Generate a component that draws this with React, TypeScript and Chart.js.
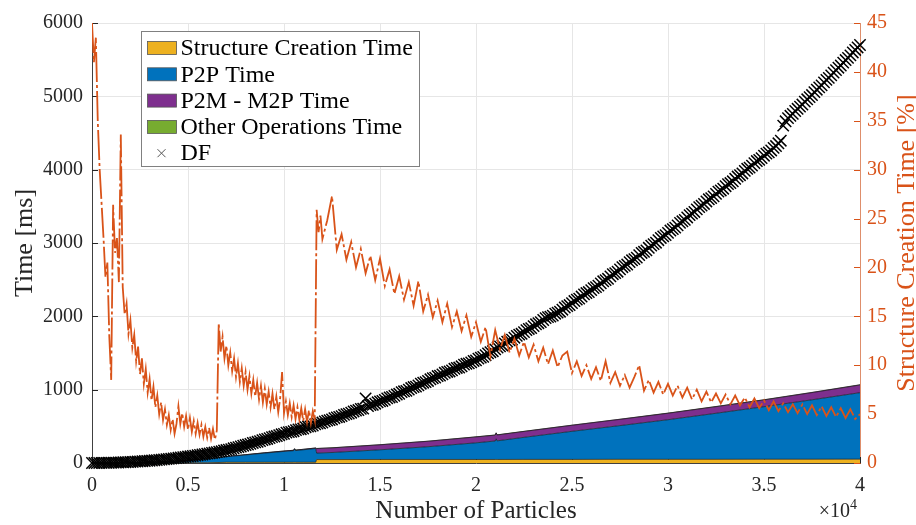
import React, { useEffect, useRef } from 'react';
import { Chart, registerables } from 'chart.js';

Chart.register(...registerables);

// ---------- data ----------
// Stacked time components (ms) sampled at AREA_N particles
const AREA_N = [0, 1000, 2000, 3000, 4000, 5000, 6000, 7000, 8000, 9000, 10000, 10500, 10550, 10600, 11000, 11650, 11700, 12500, 15000, 17500, 20000, 21000, 21050, 21100, 22500, 25000, 27500, 30000, 32500, 35000, 37500, 40000];
const STRUCT_MS = [0, 0.2, 0.5, 0.8, 1.2, 1.8, 2, 10, 10, 10, 10, 10, 10, 10, 10, 10, 47, 47, 48, 48, 48, 48, 48, 48, 49, 49, 50, 50, 50, 51, 51, 52];
const P2P_MS = [0, 0.8, 3.5, 9, 19, 33, 53, 75, 100, 125, 148, 158, 180, 160, 170, 188, 88, 96, 132, 174, 227, 252, 282, 254, 301, 383, 460, 540, 628, 717, 811, 907];
const P2M_MS = [0, 0, 0, 0, 0.5, 1, 1.5, 2, 3, 4, 5, 5, 5, 5, 6, 6, 62, 63, 68, 74, 80, 80, 80, 80, 80, 82, 85, 88, 90, 92, 98, 105];
const OTHER_MS = [0, 0, 0, 0, 0.2, 0.3, 0.4, 0.5, 0.6, 0.7, 0.8, 0.8, 0.8, 0.8, 0.9, 1, 1.5, 1.5, 1.6, 1.8, 2, 2, 2, 2, 2.1, 2.2, 2.4, 2.5, 2.7, 2.8, 3, 3.2];

// DF total time (ms), one value every DF_STEP particles from 0 to 40000
const DF_STEP = 125;
const DF_MS = [
  0, 0, 0, 0.5, 1, 1.5, 2, 3, 4, 4.5, 5, 6.5, 8, 9.5, 11, 12.5,
  14, 16, 18, 20, 22, 24, 27, 29, 31, 34, 37, 40, 43, 46, 49, 53,
  57, 60, 63, 67, 71, 75, 79, 83, 88, 92, 96, 101, 106, 111, 116, 121,
  127, 132, 137, 143, 149, 155, 160, 170, 177, 182, 190, 201, 210, 216, 225, 236,
  245, 252, 261, 273, 282, 289, 299, 312, 321, 328, 339, 352, 361, 368, 379, 392,
  398, 414, 421, 424, 433, 449, 458, 461, 470, 488, 497, 500, 510, 528, 537, 542,
  552, 568, 578, 584, 594, 611, 622, 628, 640, 657, 667, 674, 686, 703, 714, 722,
  738, 742, 880, 776, 790, 794, 808, 828, 840, 846, 861, 882, 894, 900, 915, 934,
  944, 966, 978, 984, 1000, 1022, 1036, 1042, 1058, 1081, 1095, 1102, 1119, 1142, 1156, 1165,
  1186, 1191, 1208, 1230, 1241, 1248, 1263, 1285, 1296, 1302, 1319, 1342, 1353, 1359, 1373, 1391,
  1400, 1424, 1437, 1448, 1470, 1495, 1511, 1524, 1550, 1575, 1590, 1603, 1630, 1655, 1672, 1683,
  1708, 1734, 1750, 1762, 1785, 1812, 1828, 1840, 1866, 1892, 1906, 1921, 1950, 1976, 1990, 1996,
  2010, 2036, 2050, 2063, 2090, 2120, 2140, 2154, 2180, 2209, 2228, 2242, 2270, 2300, 2318, 2331,
  2358, 2384, 2398, 2418, 2450, 2478, 2494, 2512, 2545, 2574, 2590, 2608, 2640, 2670, 2688, 2706,
  2740, 2764, 2780, 2801, 2835, 2864, 2880, 2900, 2935, 2965, 2985, 3004, 3038, 3069, 3090, 3108,
  3138, 3170, 3190, 3210, 3240, 3274, 3296, 3316, 3348, 3380, 3400, 3423, 3458, 3490, 3510, 3532,
  3566, 3596, 3612, 3636, 3670, 3700, 3716, 3740, 3774, 3802, 3818, 3842, 3876, 3906, 3924, 3948,
  3984, 4012, 4028, 4055, 4090, 4118, 4133, 4157, 4190, 4218, 4236, 4262, 4298, 4322, 4360, 4395,
  4600, 4660, 4702, 4735, 4760, 4800, 4830, 4860, 4888, 4928, 4960, 4990, 5018, 5058, 5090, 5122,
  5150, 5190, 5224, 5252, 5285, 5324, 5358, 5390, 5420, 5460, 5495, 5525, 5558, 5598, 5632, 5666,
  5700,
];

// Structure creation time share (%), first part every 100 particles (0..11900)
const PCT_A_STEP = 100;
const PCT_A = [
  45, 41, 43.5, 35, 30, 26.5, 23, 19, 20.5, 13,
  8.5, 26.4, 21.5, 23, 18.5, 33.6, 18.0, 15.2, 16.3, 13.2,
  14.6, 11.8, 13.1, 10.4, 11.9, 9.1, 10.7, 8.1, 9.6, 7.2,
  8.6, 6.4, 7.8, 5.7, 6.9, 5.0, 6.2, 4.4, 5.5, 3.9,
  4.9, 3.4, 4.5, 3.0, 4.0, 5.8, 4.0, 5.1, 3.7, 4.8,
  3.4, 4.6, 3.2, 4.3, 3.0, 4.1, 2.9, 3.9, 2.7, 3.7,
  2.6, 3.6, 2.5, 3.5, 2.4, 3.3, 14.3, 11.4, 12.9, 10.7,
  12.0, 10.0, 11.3, 9.4, 10.7, 8.8, 10.2, 8.3, 9.7, 7.9,
  9.3, 7.5, 8.9, 7.1, 8.5, 6.8, 8.2, 6.5, 7.9, 6.2,
  7.6, 6.0, 7.3, 5.7, 7.1, 5.5, 6.8, 5.2, 6.6, 9.3,
  5.1, 6.3, 4.9, 6.1, 4.7, 5.9, 4.5, 5.7, 4.4, 5.6,
  4.3, 5.5, 4.2, 5.4, 4.1, 5.3, 4.4, 25.9, 23.6, 25.3,
];
// second part every 250 particles (12000..40000)
const PCT_B_START = 12000;
const PCT_B_STEP = 250;
const PCT_B = [
  22.9, 24.8, 27.3, 21.8, 23.4, 20.8, 22.6, 20.0,
  21.9, 19.4, 21.2, 18.7, 20.9, 18.1, 19.8, 17.3,
  19.1, 16.7, 18.5, 16.1, 18.6, 15.5, 17.2, 14.9,
  16.6, 14.4, 16.3, 13.9, 15.5, 13.5, 15.1, 12.9,
  14.4, 12.4, 13.9, 10.9, 13.6, 11.6, 13.1, 11.3,
  12.7, 11.0, 12.4, 10.8, 12.1, 10.4, 11.8, 10.1,
  11.5, 9.8, 11.0, 11.4, 9.2, 10.4, 8.9, 10.0,
  8.6, 9.8, 8.4, 10.4, 8.2, 9.3, 7.9, 9.0,
  7.7, 8.8, 10.0, 7.4, 8.5, 7.2, 8.3, 7.0,
  8.1, 6.9, 7.9, 6.7, 7.7, 6.5, 7.5, 6.3,
  7.3, 6.2, 7.1, 6.1, 7.0, 6.0, 6.9, 5.9,
  6.7, 5.7, 6.6, 5.6, 6.4, 5.4, 6.3, 5.3,
  6.1, 5.2, 6.0, 5.1, 6.0, 5.0, 5.9, 4.9,
  5.8, 4.8, 5.7, 4.7, 5.6, 4.6, 5.5, 4.5,
  5.0,
];

const LEGEND_LABELS = ['Structure Creation Time', 'P2P Time', 'P2M - M2P Time', 'Other Operations Time', 'DF'];
const X_LABEL = 'Number of Particles';
const Y_LABEL = 'Time [ms]';
const Y2_LABEL = 'Structure Creation Time [%]';

// ---------- styles ----------
const C_YELLOW = '#EDB120';
const C_BLUE = '#0072BD';
const C_PURPLE = '#7E2F8E';
const C_GREEN = '#77AC30';
const C_ORANGE = '#D95319';
const FONT = '"Liberation Serif", "Times New Roman", serif';
const TXT = '#262626';

const overlay = {
  id: 'overlay',
  beforeDatasetsDraw(chart: any) {
    const { ctx, chartArea: a, scales } = chart;
    ctx.save();
    ctx.lineWidth = 1;
    ctx.strokeStyle = TXT;
    ctx.beginPath();
    for (const t of scales.y.ticks) {
      const y = Math.round(scales.y.getPixelForValue(t.value)) + 0.5;
      ctx.moveTo(a.left, y); ctx.lineTo(a.left + 6, y);
    }
    for (const t of scales.x.ticks) {
      const x = Math.round(scales.x.getPixelForValue(t.value)) + 0.5;
      ctx.moveTo(x, a.bottom); ctx.lineTo(x, a.bottom - 6);
    }
    ctx.stroke();
    ctx.strokeStyle = C_ORANGE;
    ctx.beginPath();
    for (const t of scales.y2.ticks) {
      const y = Math.round(scales.y2.getPixelForValue(t.value)) + 0.5;
      ctx.moveTo(a.right, y); ctx.lineTo(a.right - 6, y);
    }
    ctx.stroke();
    ctx.restore();
  },
  afterDraw(chart: any) {
    const { ctx, chartArea: a } = chart;
    ctx.save();
    // axis titles
    ctx.textAlign = 'center';
    ctx.textBaseline = 'middle';
    ctx.fillStyle = TXT;
    ctx.font = `25px ${FONT}`;
    ctx.fillText(X_LABEL, (a.left + a.right) / 2, a.bottom + 48);
    ctx.save();
    ctx.translate(a.left - 67, (a.top + a.bottom) / 2);
    ctx.rotate(-Math.PI / 2);
    ctx.font = `26px ${FONT}`;
    ctx.fillText(Y_LABEL, 0, 0);
    ctx.restore();
    ctx.save();
    ctx.translate(a.right + 47, (a.top + a.bottom) / 2);
    ctx.rotate(-Math.PI / 2);
    ctx.font = `26px ${FONT}`;
    ctx.fillStyle = C_ORANGE;
    ctx.fillText(Y2_LABEL, 0, 0);
    ctx.restore();
    // x10^4 multiplier
    ctx.textAlign = 'right';
    ctx.textBaseline = 'alphabetic';
    ctx.font = `20px ${FONT}`;
    ctx.fillText('\u00d710', a.right - 10, a.bottom + 54);
    ctx.textAlign = 'left';
    ctx.font = `14px ${FONT}`;
    ctx.fillText('4', a.right - 10, a.bottom + 46);

    // legend
    const lx = a.left + 49.5, ly = a.top + 8.5, lw = 278, lh = 135;
    ctx.fillStyle = '#ffffff';
    ctx.fillRect(lx, ly, lw, lh);
    ctx.strokeStyle = '#808080';
    ctx.lineWidth = 1;
    ctx.strokeRect(lx, ly, lw, lh);
    const rowY = [48, 74.3, 100.6, 126.9, 153.2];
    const sw = [C_YELLOW, C_BLUE, C_PURPLE, C_GREEN];
    ctx.font = `24px ${FONT}`;
    ctx.textBaseline = 'middle';
    ctx.textAlign = 'left';
    for (let i = 0; i < LEGEND_LABELS.length; i++) {
      const cy = rowY[i] + (a.top - 23);
      if (i < 4) {
        ctx.fillStyle = sw[i];
        ctx.fillRect(lx + 6, cy - 6.5, 29, 13);
        ctx.strokeStyle = '#555';
        ctx.lineWidth = 0.8;
        ctx.strokeRect(lx + 6, cy - 6.5, 29, 13);
      } else {
        ctx.strokeStyle = '#555';
        ctx.lineWidth = 1;
        ctx.beginPath();
        const mx = lx + 20;
        ctx.moveTo(mx - 4, cy - 4); ctx.lineTo(mx + 4, cy + 4);
        ctx.moveTo(mx + 4, cy - 4); ctx.lineTo(mx - 4, cy + 4);
        ctx.stroke();
      }
      ctx.fillStyle = '#000';
      ctx.fillText(LEGEND_LABELS[i], lx + 39, cy + 1);
    }
    ctx.restore();
  },
};

export default function App() {
  const ref = useRef<HTMLCanvasElement>(null);
  useEffect(() => {
    document.body.style.margin = '0';
    const pts = (ys: number[]) => ys.map((y, i) => ({ x: AREA_N[i], y }));
    const dfPts = DF_MS.map((y, i) => ({ x: i * DF_STEP, y }));
    const pctPts = [
      ...PCT_A.map((y, i) => ({ x: i * PCT_A_STEP, y })),
      ...PCT_B.map((y, i) => ({ x: PCT_B_START + i * PCT_B_STEP, y })),
    ];
    const areaBase = {
      type: 'line' as const,
      stack: 'areas',
      yAxisID: 'y',
      pointRadius: 0,
      borderWidth: 0.8,
      borderColor: 'rgba(20,20,20,0.85)',
      order: 2,
    };
    const chart = new Chart(ref.current!, {
      type: 'line',
      data: {
        datasets: [
          { ...areaBase, label: LEGEND_LABELS[0], data: pts(STRUCT_MS), backgroundColor: C_YELLOW, fill: 'origin' },
          { ...areaBase, label: LEGEND_LABELS[1], data: pts(P2P_MS), backgroundColor: C_BLUE, fill: '-1' },
          { ...areaBase, label: LEGEND_LABELS[2], data: pts(P2M_MS), backgroundColor: C_PURPLE, fill: '-1' },
          { ...areaBase, label: LEGEND_LABELS[3], data: pts(OTHER_MS), backgroundColor: C_GREEN, fill: '-1' },
          {
            type: 'line', label: LEGEND_LABELS[4], data: dfPts, stack: 'df', yAxisID: 'y',
            showLine: false, pointStyle: 'crossRot', pointRadius: 8, pointBorderWidth: 1.5,
            pointBorderColor: '#000', pointBackgroundColor: '#000', borderColor: '#000', order: 1, clip: false,
          } as any,
          {
            type: 'line', label: 'pct', data: pctPts, yAxisID: 'y2', pointRadius: 0,
            borderColor: C_ORANGE, borderWidth: 1.8, borderDash: [30, 3, 3, 3], fill: false, order: 0,
          } as any,
        ],
      },
      options: {
        responsive: false,
        animation: false,
        events: [],
        layout: { padding: { top: 23, left: 0, right: 0, bottom: 0 } },
        plugins: { legend: { display: false }, tooltip: { enabled: false }, title: { display: false } },
        scales: {
          x: {
            type: 'linear', min: 0, max: 40000,
            afterFit: (s: any) => { s.height = 62; },
            ticks: {
              stepSize: 5000, autoSkip: false, maxRotation: 0, padding: 11, color: TXT,
              font: { family: FONT, size: 20 },
              callback: (v: any) => String(Number(v) / 10000),
            },
            grid: { color: '#e6e6e6', drawTicks: false },
            border: { color: '#404040', width: 1 },
          },
          y: {
            position: 'left', min: 0, max: 6000, stacked: true,
            afterFit: (s: any) => { s.width = 92; },
            ticks: {
              stepSize: 1000, padding: 9, color: TXT, font: { family: FONT, size: 20 },
              callback: (v: any) => String(v),
            },
            grid: { color: '#e6e6e6', drawTicks: false },
            border: { color: '#404040', width: 1 },
          },
          y2: {
            position: 'right', min: 0, max: 45,
            afterFit: (s: any) => { s.width = 56; },
            ticks: {
              stepSize: 5, padding: 7, color: C_ORANGE, font: { family: FONT, size: 20 },
              callback: (v: any) => String(v),
            },
            grid: { drawOnChartArea: false, drawTicks: false },
            border: { color: 'rgba(217,83,25,0.6)', width: 1 },
          },
        },
      } as any,
      plugins: [overlay],
    });
    return () => chart.destroy();
  }, []);
  return (
    <div style={{ position: 'fixed', left: 0, top: 0, width: 916, height: 525, background: '#fff' }}>
      <canvas ref={ref} width={916} height={525} style={{ display: 'block' }} />
    </div>
  );
}
